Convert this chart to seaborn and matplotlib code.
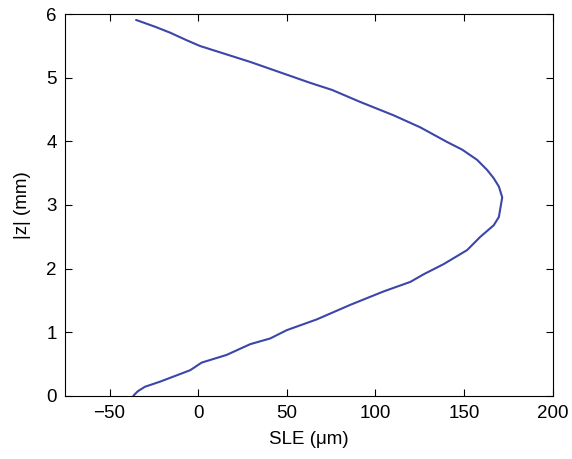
import matplotlib
matplotlib.use("Agg")
import matplotlib.pyplot as plt
import seaborn as sns
import pandas as pd

z_mm = [0, 0.07, 0.14, 0.22, 0.40, 0.52, 0.64, 0.81, 0.90, 1.03, 1.20, 1.43, 1.64, 1.79,
        1.91, 2.07, 2.29, 2.50, 2.68, 2.81, 3.12, 3.29, 3.42, 3.55, 3.71, 3.87,
        3.99, 4.22, 4.41, 4.62, 4.81, 4.92, 5.25, 5.50, 5.59, 5.71, 5.80, 5.91]
sle_um = [-36.5, -34, -30, -21.5, -4.5, 2, 16, 29.4, 40.7, 50, 67, 86, 104.7, 119.8,
          127.3, 138.6, 151.8, 159.3, 166.8, 169.7, 171.6, 169.7, 166.8, 163.1, 157.4, 149,
          140.5, 125.4, 110.3, 91.5, 75.5, 63.3, 29.4, 1.1, -6.4, -15.8, -24, -35]
x_ticks = [-50, 0, 50, 100, 150, 200]
y_ticks = [0, 1, 2, 3, 4, 5, 6]

sns.set_style("ticks")
plt.rcParams["font.family"] = ["Liberation Sans", "DejaVu Sans"]
plt.rcParams["text.color"] = "black"
plt.rcParams["axes.labelcolor"] = "black"
plt.rcParams["xtick.color"] = "black"
plt.rcParams["ytick.color"] = "black"

df = pd.DataFrame({"SLE": sle_um, "z": z_mm})

fig = plt.figure(figsize=(5.72, 4.59), dpi=100)
ax = fig.add_axes([0.114, 0.138, 0.852, 0.831])
sns.lineplot(data=df, x="SLE", y="z", sort=False, estimator=None,
             color="#3c46a8", linewidth=1.5, ax=ax)

ax.set_xlim(-75, 200)
ax.set_ylim(0, 6)
ax.set_xticks(x_ticks)
ax.set_yticks(y_ticks)
ax.set_xticklabels(["\u221250" if t < 0 else str(t) for t in x_ticks])
ax.tick_params(axis="both", which="both", direction="in", length=5, width=0.8,
               labelsize=13.5, top=True, right=True, colors="black")
ax.tick_params(axis="x", pad=7)
ax.tick_params(axis="y", pad=6)
for s in ax.spines.values():
    s.set_visible(True)
    s.set_color("black")
    s.set_linewidth(0.8)
ax.set_xlabel("SLE (\u03bcm)", fontsize=13.5, labelpad=6, color="black")
ax.set_ylabel("|z| (mm)", fontsize=13.5, labelpad=11, color="black")

fig.savefig("out.png", dpi=100)
